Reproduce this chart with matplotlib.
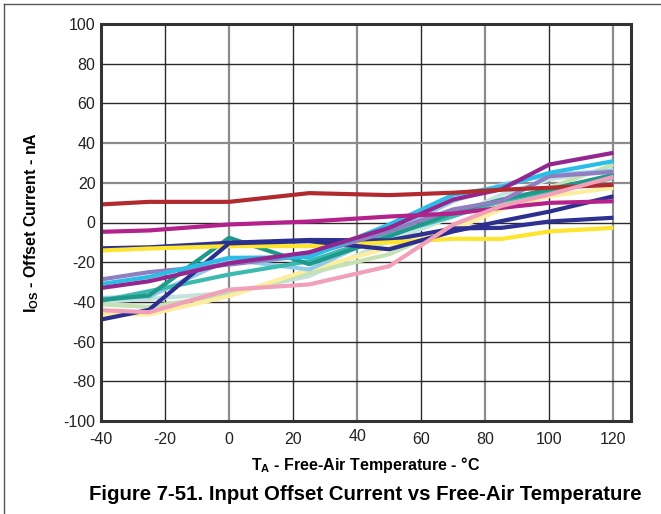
import matplotlib
matplotlib.use("Agg")
import matplotlib.pyplot as plt
from matplotlib.transforms import ScaledTranslation
from matplotlib.lines import Line2D

plt.rcParams["font.family"] = ["Liberation Sans", "DejaVu Sans"]
plt.rcParams["mathtext.fontset"] = "custom"
plt.rcParams["mathtext.rm"] = "Liberation Sans"
plt.rcParams["mathtext.bf"] = "Liberation Sans:bold"
plt.rcParams["axes.unicode_minus"] = False

temps = [-40, -25, 0, 25, 50, 70, 85, 100, 120]

pale_teal = [-40, -38.5, -35.4, -27, -9.4, 3, 14, 21.7, 26.7]
light_green = [-41.3, -42.5, -36.3, -25.4, -16, -1.8, 9.1, 17.5, 29.2]
pale_yellow = [-46.3, -46.3, -37.1, -23.7, -12.7, -3.5, 6.6, 13.3, 17.5]
light_blue = [-38, -37.4, -18.6, -23.7, -5.2, 10.8, 19, 24, 26]
medium_teal = [-39.5, -34.6, -26.2, -19.5, -6, 3.2, 10.8, 15.8, 22.5]
teal = [-39, -36.8, -7.7, -21, -7, 4.9, 11.5, 16.7, 24]
navy_a = [-13, -12.5, -10.2, -8.8, -9, -3, -2.7, 0.5, 2.4]
yellow = [-14.1, -13.1, -11.9, -11.9, -10, -8.2, -8.3, -4.5, -2.7]
navy_b = [-48.9, -44, -10.5, -9.4, -13.5, -4.5, 0.7, 5.5, 13.2]
lavender = [-28.7, -25, -21.2, -16.5, -4.4, 6.6, 10.8, 23.3, 25.5]
cyan = [-31, -27.4, -17.8, -17.5, -1, 14, 18, 25, 30.9]
purple = [-33, -29.6, -20.5, -15, -2.7, 11.6, 16.7, 29.2, 35.1]
magenta = [-4.7, -4, -1, 0.5, 3, 4.5, 7.4, 9.9, 10.7]
red = [9.1, 10.4, 10.4, 14.8, 13.8, 15, 16.5, 17.5, 19]
pink = [-44.2, -45.2, -33.8, -31.2, -22, -1, 8.3, 14.1, 23]

series = [
    (pale_teal, "#c4e3de"),
    (light_green, "#c6e1b3"),
    (pale_yellow, "#fdee9f"),
    (light_blue, "#8fcbea"),
    (medium_teal, "#3dbab0"),
    (teal, "#1f9a8a"),
    (navy_a, "#2e3192"),
    (yellow, "#fce52c"),
    (navy_b, "#2c2f8e"),
    (lavender, "#8f7fc2"),
    (cyan, "#2bbde6"),
    (purple, "#93278f"),
    (magenta, "#b4218b"),
    (red, "#b02a30"),
    (pink, "#f2a0ba"),
]

x_ticks = [-40, -20, 0, 20, 40, 60, 80, 100, 120]
y_ticks = [-100, -80, -60, -40, -20, 0, 20, 40, 60, 80, 100]

fig = plt.figure(figsize=(6.61, 5.14), dpi=100)
ax = fig.add_axes([101 / 661, 1 - 421 / 514, 530 / 661, 397 / 514])

# grid: alternating dark and grey rules
for x in x_ticks[1:]:
    grey = x in (0, 40, 80, 120)
    ax.axvline(x, color="#8c8c8c" if grey else "#2a2a2a",
               lw=1.6 if grey else 1.0, zorder=1)
for y in y_ticks[1:-1]:
    grey = y in (20, 40)
    ax.axhline(y, color="#8c8c8c" if grey else "#2a2a2a",
               lw=1.6 if grey else 1.0, zorder=1)

for values, color in series:
    ax.plot(temps, values, color=color, lw=3.0, solid_capstyle="butt", zorder=3)

ax.set_xlim(-40, 125.5)
ax.set_ylim(-100, 100)
ax.set_xticks(x_ticks)
ax.set_yticks(y_ticks)
ax.tick_params(length=0, labelsize=11.5, colors="#222222")
ax.tick_params(axis="x", pad=8)
ax.tick_params(axis="y", pad=4)
for s in ax.spines.values():
    s.set_linewidth(2.2)
    s.set_color("#333333")
    s.set_zorder(5)

for lbl in ax.get_xticklabels():
    if lbl.get_text() == "40":
        lbl.set_transform(lbl.get_transform() +
                          ScaledTranslation(0, 2.2 / 72, fig.dpi_scale_trans))

ax.set_xlabel(r"$\mathbf{T}_\mathbf{A}$ - Free-Air Temperature - °C",
              fontsize=11.5, fontweight="bold", labelpad=6)
ax.set_ylabel(r"$\mathbf{I}_\mathbf{OS}$ - Offset Current - nA",
              fontsize=11.5, fontweight="bold", labelpad=16)

fig.text(365 / 661, 1 - 495 / 514,
         "Figure 7-51. Input Offset Current vs Free-Air Temperature",
         ha="center", va="center", fontsize=14.7, fontweight="bold")

# page frame on the left and top
fig.add_artist(Line2D([4 / 661, 4 / 661], [0, 1 - 4 / 514],
                      transform=fig.transFigure, color="#555555", lw=1))
fig.add_artist(Line2D([4 / 661, 1], [1 - 4 / 514, 1 - 4 / 514],
                      transform=fig.transFigure, color="#555555", lw=1))

fig.savefig("out.png", dpi=100)
